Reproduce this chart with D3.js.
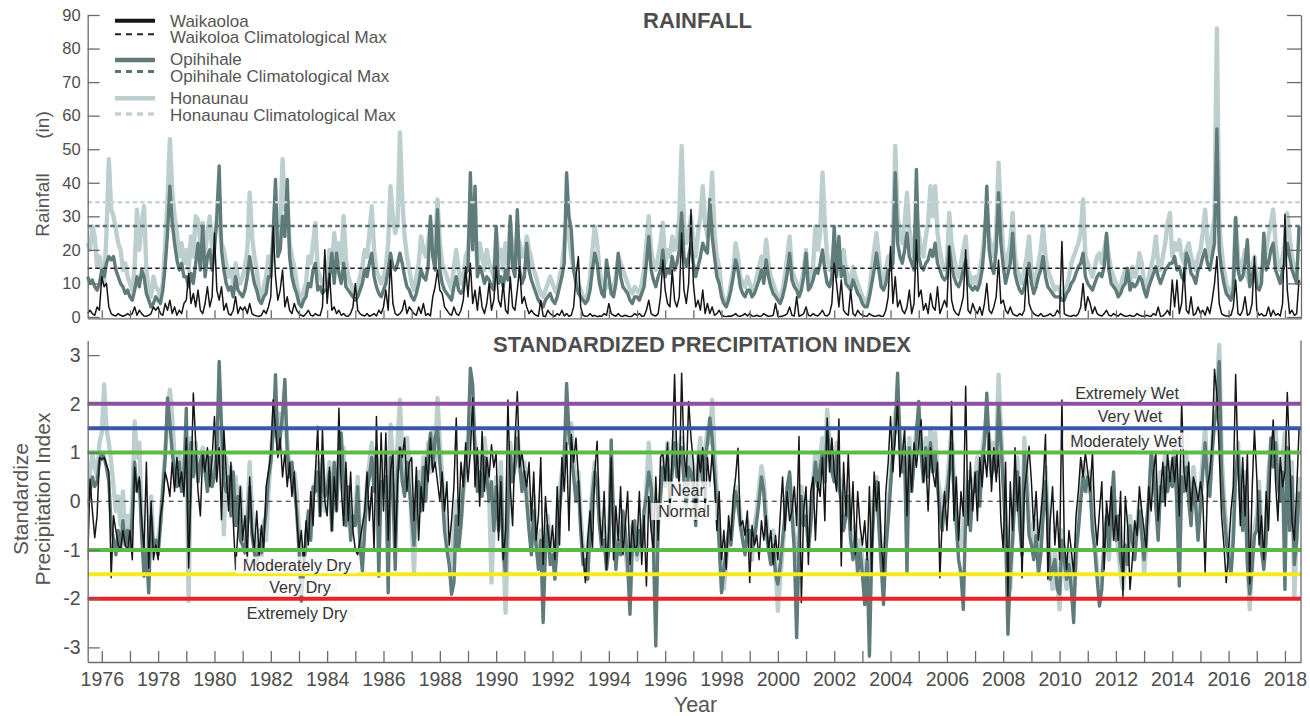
<!DOCTYPE html>
<html><head><meta charset="utf-8">
<script src="https://cdn.jsdelivr.net/npm/d3@7"></script>
<style>body{margin:0;background:#fff}svg{display:block}text{font-family:"Liberation Sans",Arial,sans-serif}</style>
</head><body><svg id="c" width="1310" height="716"></svg>
<script>
// ---------- DATA (monthly, Jul 1975 .. Jul 2018) ----------
const startYear = 1975.5;
const yearTicks = d3.range(1976, 2019);
const rainTicks = [0,10,20,30,40,50,60,70,80,90];
const spiTicks = [-3,-2,-1,0,1,2,3];
const climMax = {waikoloa: 14.5, opihihale: 27.1, honaunau: 34.2};

const rainHonaunau = [
22,20,27,24,15,18,
14,10,25,47,32,30,26,22,20,14,16,12,
10,8,15,32,20,28,33,14,8,6,12,9,
8,6,10,22,35,53,38,30,25,18,22,16,
20,14,24,18,30,29,22,28,19,25,30,20,
24,28,29,22,20,16,12,14,10,16,12,10,
12,15,20,37,24,18,14,8,6,9,12,18,
14,22,30,20,28,47,32,35,22,18,15,10,
6,5,8,10,18,16,22,28,14,12,10,9,
12,20,14,25,18,22,16,30,17,12,10,8,
7,9,12,15,20,18,25,33,20,14,12,10,
12,15,22,39,30,25,28,55,35,24,18,14,
10,8,12,16,24,20,18,22,28,24,20,35,
22,16,14,12,10,8,15,20,14,10,12,18,
20,29,23,26,15,22,18,14,20,16,14,12,
25,18,20,14,22,16,28,20,18,24,22,18,
18,24,20,17,14,12,9,7,6,8,10,12,
10,8,7,12,15,22,30,24,18,14,12,10,
8,6,5,7,12,20,27,22,14,10,8,9,
10,8,9,12,18,16,14,12,10,8,7,9,
8,7,10,14,22,30,20,16,14,18,22,28,
16,20,18,24,20,22,30,51,28,22,25,30,
22,18,25,30,39,28,24,30,43,25,18,15,
8,5,4,6,10,14,22,18,12,10,9,12,
10,8,9,12,15,18,14,23,16,12,10,8,
6,5,8,12,18,24,14,12,10,8,10,14,
20,10,12,15,27,20,25,43,28,18,14,16,
22,18,20,16,20,14,12,10,15,12,10,8,
6,5,4,8,14,20,25,18,12,10,14,18,
18,22,51,30,25,22,28,37,26,22,18,30,
25,20,18,24,28,39,30,39,25,20,16,14,
16,31,22,18,14,12,16,20,24,14,12,10,
12,10,14,18,25,32,24,20,18,25,46,30,
20,14,18,22,31,18,14,12,10,14,18,24,
14,10,12,16,20,27,18,14,12,10,8,9,
8,6,7,9,12,16,18,20,22,25,35,18,
16,14,12,15,18,19,16,20,24,18,14,12,
10,8,9,12,14,12,10,15,12,14,19,16,
10,8,12,15,18,24,16,14,18,22,28,31,
18,22,20,23,18,16,20,22,18,16,14,18,
20,25,32,22,18,25,30,86,28,20,14,10,
8,6,10,29.6,18,14,16,20,12,10,14,18,
12,10,14,16,20,24,28,32,22,16,14,18,
22,31,24,18,15,12,10];

const rainOpihihale = [
12,10,11,9,8,10,
14,12,16,18,17,18,14,12,10,9,7,8,
6,5,8,12,9,14,12,7,5,3,4,6,
5,4,8,15,25,39,28,22,17,14,16,12,
12,9,13,10,16,22,14,27,12,18,20,14,
20,30,45,20,14,10,8,9,6,12,8,7,
6,8,12,18,14,10,8,5,4,6,7,12,
12,25,41,18,20,30,24,41,18,12,9,7,
4,3,5,6,10,9,14,16,8,9,7,8,
8,12,19,10,19,13,10,16,9,8,7,6,
5,6,8,10,14,12,16,19,12,9,7,6,
8,10,14,19,15,14,16,19,16,12,9,8,
6,5,7,10,14,12,11,15,30,18,14,32,
14,10,8,7,6,5,9,12,8,7,8,13,
14,43,20,39,12,15,13,10,12,11,9,8,
27,10,12,9,14,11,30,15,12,32,14,10,
12,22,14,11,9,7,5,4,3,5,6,7,
5,4,6,9,12,16,43,30,26,14,10,7,
6,5,4,5,8,14,19,16,10,7,6,17,
12,7,6,10,19,12,9,8,7,5,4,6,
6,5,7,9,16,24,14,11,9,12,14,20,
12,14,13,18,14,16,20,31,18,15,18,22,
16,12,15,18,22,20,19,35,24,18,12,10,
6,4,3,5,8,12,17,14,9,7,6,8,
8,6,7,9,11,14,10,17,12,9,7,6,
5,4,6,9,13,19,11,9,8,6,8,12,
19,8,9,11,14,13,16,20,14,10,9,12,
27,12,24,12,15,10,9,8,11,9,7,6,
4,3,3,6,10,14,19,14,9,8,10,14,
14,16,43,22,18,16,20,25,18,16,14,44,
18,15,14,16,17,20,18,22,16,14,12,11,
12,21,15,12,10,9,11,14,17,10,9,8,
9,8,10,14,22,39,20,15,13,20,37,22,
15,10,13,16,25,13,10,8,7,9,12,16,
10,7,9,12,14,18,12,9,8,7,6,6,
6,5,5,7,8,10,11,13,15,16,19,12,
10,9,8,10,12,13,12,15,25,14,10,9,
8,6,7,9,10,14.5,8,10,9,10,12,11,
8,6,9,11,13,15,12,10,12,14,15,16,
16,18,14,15,12,11,19,17,13,12,10,14,
15,18,20,16,14,18,22,56,20,14,10,7,
6,5,8,29.6,14,11,12,16,23,9,12,15,
9,8,10,25,14,16,20,22,14,12,10,14,
16,22,18,14,12,10,27];

const rainWaikoloa = [
1,2,1,0.5,3,2,
12,9,10,3,1,0.5,0.3,1,0.5,0.2,0.5,1,
0.5,1,3,0.5,2,1,0.3,0.2,0.5,1,3,2,
3,1,0.5,4,2,5,1,3,0.5,2,1,4,
5,13,4,7,3,8,2,1,4,9,3,6,
25,8,5,9,2,4,1,0.5,2,6,1,3,
2,3,1,4,1,0.5,0.3,0.2,0.5,2,1,3,
6,27,12,5,8,14,3,6,2,1,4,2,
1,0.5,0.2,1,2,0.5,0.3,1,0.5,0.4,3,20,
4,13,2,3,1,2,0.5,1,0.3,0.2,1,3,
10,2,1,0.5,0.3,1,0.2,0.5,1,0.3,2,1,
3,8,2,17,4,1,0.5,1,2,5,1,3,
2,1,0.5,3,1,4,0.5,1,0.3,6,9,14,
8,7,3,2,1,0.5,3,1,0.5,2,5,15,
6,16,4,8,2,9,3,1,4,10,2,5,
15,5,3,10,2,1,12,3,2,8,15,4,
6,3,1,2,1,0.5,0.2,5,0.3,0.1,2,1,
0.5,0.2,1,0.5,2,0.3,1,0.2,0.5,3,12,18,
3,0.5,0.2,0.3,1,0.2,0.5,0.1,0.3,0.2,1,0.5,
4,1,0.5,0.2,1,0.3,0.2,0.5,0.2,0.1,0.3,1,
0.5,1,0.2,0.3,2,5,1,0.5,0.3,1,6,17,
8,4,3,14,5,3,6,25,8,4,10,32,
10,3,5,2,8,1,4,1,3,0.5,1,2,
0.5,0.2,0.1,0.3,0.2,0.5,1,0.3,0.2,0.5,1,0.3,
1,0.3,0.2,0.5,0.2,0.3,1,0.5,0.2,0.3,0.5,4,
0.2,0.1,0.3,0.5,1,3,0.5,0.3,6,0.2,0.5,1,
3,0.5,0.3,1,0.5,0.3,1,2,0.5,0.3,1,4,
16,10,3,11,2,1,0.5,8,1,0.3,2,1,
0.5,0.3,0.2,1,0.5,0.2,0.3,0.5,0.2,0.3,2,6,
21,4,12,3,5,2,1,3,8,1,4,23,
6,8,2,4,1,7,3,2,9,1,3,5,
3,21,5,2,1,0.5,3,6,20,2,1,4,
2,1,3,0.5,4,10,2,1,3,6,17,4,
5,2,1,3,1,0.5,0.3,1,0.5,2,14.5,4,
2,1,0.5,0.3,1,0.2,0.3,0.5,1,0.3,0.5,2,
1,22.5,1,0.5,0.3,0.2,0.5,0.3,1,3,10,2,
6,4,1,3,1,0.5,0.3,1,2,0.5,0.3,1,
0.5,0.3,1,0.5,0.2,0.3,0.5,0.2,0.3,1,0.5,0.3,
0.2,0.5,0.3,0.2,1,0.5,3,0.2,0.3,1,2,0.5,
11,3,11,1,4,14.5,2,1,6,0.5,1,3,
1,2,0.5,3,1,5,10,18,4,1,0.5,0.3,
0.3,0.5,3,11,1,0.5,2,6,0.5,1,4,18,
2,0.5,1,0.3,0.5,3,0.2,2,0.5,1,0.3,4,
30.6,8,1,2,0.5,1,11];

const spiHonaunau = [
0.2,0.6,1.0,0.7,0.5,1.2,
1.4,2.4,1.5,1.2,0.8,0.3,-0.2,0.1,-0.5,0.2,-0.8,-0.3,
-0.7,0.0,1.64,0.9,1.2,-0.4,-1.1,-1.5,-0.6,0.1,-0.9,-1.0,
-0.8,-0.4,0.3,1.0,1.7,2.29,1.74,0.9,0.6,1.0,0.4,0.8,
1.1,-2.05,1.3,0.8,1.2,0.6,0.9,1.1,0.7,0.4,1.0,0.5,
0.8,1.2,1.4,0.6,-0.68,0.9,0.3,0.7,0.0,0.5,-0.2,0.3,
-0.5,-1.0,-0.3,0.8,-0.2,-0.9,-1.1,-0.6,-1.2,-0.4,-0.8,0.2,
0.9,1.6,2.08,1.3,1.8,1.5,1.9,1.2,0.7,0.4,0.6,0.2,
-0.6,-1.5,-1.2,-0.9,-0.3,-0.5,0.1,0.4,0.8,0.2,0.6,-0.2,
0.3,0.8,-0.4,0.7,0.1,0.9,0.5,1.1,-0.3,0.2,-0.6,-0.4,
-0.2,0.5,-0.7,-1.0,-0.3,0.4,0.8,1.2,0.5,0.9,-0.2,0.3,
0.6,1.0,0.2,1.57,0.8,0.3,1.2,2.08,1.0,0.5,1.3,0.7,
-0.5,-1.47,-0.2,0.6,0.2,0.9,0.4,1.2,0.6,1.5,0.8,2.12,
1.2,0.5,-0.3,-0.8,-1.2,-1.5,-0.6,0.0,-0.8,-0.4,0.2,0.6,
1.0,1.8,1.5,1.2,0.3,0.9,0.5,1.3,0.8,0.2,-1.67,-0.4,
0.5,-0.3,0.8,-0.8,-2.29,-0.6,1.2,0.6,0.9,1.5,0.7,0.4,
0.8,0.2,-0.4,-0.9,0.1,-0.7,-1.2,-0.6,-1.5,-0.8,-0.3,-1.0,
-0.8,-1.4,-0.6,0.2,0.6,1.0,1.5,1.2,1.6,0.8,0.3,0.6,
-0.3,-1.0,-1.5,-0.9,-0.4,0.3,0.8,0.5,-0.3,-0.8,-0.5,-1.2,
-0.8,0.6,-0.3,-1.2,-0.6,-1.0,-0.4,-0.9,-1.5,-1.0,-0.5,-0.8,
-1.2,-0.7,-1.0,-0.4,0.3,1.2,0.5,-0.6,-1.3,-0.4,0.2,0.9,
0.6,1.2,0.4,0.9,1.4,0.8,1.1,1.3,0.7,0.2,0.9,1.0,
0.6,-0.2,0.9,1.3,0.5,1.0,1.5,1.2,2.08,1.0,0.2,-0.6,
-1.5,-1.8,-1.2,-0.8,-0.5,-0.2,0.3,0.1,-0.3,-0.6,-0.9,-0.4,
-0.8,-1.2,-0.5,-0.2,0.3,0.72,0.4,-0.3,-0.8,-1.1,-0.6,-1.3,
-2.25,-1.6,-1.0,-0.4,0.2,0.5,-0.3,-0.8,-1.2,-0.6,0.3,-0.2,
0.0,-0.8,-0.3,0.4,1.0,0.5,0.9,1.3,0.6,1.88,1.2,0.8,
0.5,1.2,0.6,0.2,-0.4,-0.1,0.3,-0.6,-1.0,-0.5,-1.3,-0.8,
-1.2,-1.6,-1.8,-1.3,-0.6,0.2,0.5,-0.3,-1.0,-1.5,-0.8,-0.2,
0.5,1.2,1.8,2.0,1.4,0.8,1.1,0.6,1.3,0.4,0.9,1.5,
1.8,1.2,0.6,1.3,0.7,1.5,0.9,1.4,0.5,0.2,-0.3,0.1,
0.3,0.9,1.5,0.4,-0.2,-0.6,-1.0,-0.5,0.2,0.6,-0.3,0.4,
0.5,0.9,0.2,1.0,1.4,1.8,1.3,0.8,1.2,0.9,2.6,1.5,
0.6,-0.3,-1.2,-1.8,-0.6,0.4,0.9,-0.2,-0.8,1.3,0.5,-0.4,
-0.6,-1.0,-0.4,-1.3,-0.8,0.2,0.7,-0.2,-1.4,-1.8,-1.0,-1.6,
-2.22,-0.6,-1.4,-1.8,-1.0,-1.5,-2.0,-1.2,-0.4,0.3,0.8,0.4,
0.2,0.6,-0.3,-0.8,-1.4,-1.9,-1.6,-1.0,-0.5,-1.2,-0.4,0.3,
-0.6,-1.0,-1.5,-1.8,-1.2,-0.8,-0.3,-0.6,-1.0,-0.5,0.0,-0.4,
-1.5,-0.8,-0.2,0.4,0.9,0.2,-0.5,0.6,0.3,1.0,0.5,0.8,
0.6,1.2,0.3,-1.4,0.8,0.5,1.0,0.3,-0.2,0.7,0.2,-0.5,
0.2,0.9,1.5,0.6,0.3,1.2,1.8,2.2,3.21,1.0,0.1,-0.5,
-1.0,-1.4,-0.6,0.8,1.2,0.3,-0.4,0.6,-1.0,-2.22,-1.2,-0.5,
-0.3,0.4,-0.7,-1.2,-0.5,0.6,1.1,0.9,1.5,0.7,0.3,0.9,
1.4,0.6,-0.4,0.8,-1.98,-0.6,0.5];

const spiOpihihale = [
-0.1,0.2,0.5,0.3,0.4,0.8,
1.0,0.9,0.7,0.4,-0.5,-0.8,-1.1,-0.6,-1.0,-0.4,-0.9,-0.6,
-1.0,-0.3,0.8,0.2,0.4,-0.7,-1.54,-1.0,-1.88,-0.3,-1.0,-0.8,
-1.1,-0.5,0.2,0.9,2.12,1.6,1.0,0.6,0.3,0.8,0.2,0.5,
1.91,-1.0,1.2,0.5,1.0,0.4,0.8,1.0,0.6,0.2,0.9,0.3,
0.5,1.0,2.87,1.54,0.4,0.2,0.5,-0.3,0.6,-0.5,0.1,-0.8,
-0.9,-1.06,-0.5,0.3,-0.7,-1.06,-1.3,-0.9,-1.06,-0.6,-0.2,0.5,
0.8,1.4,2.6,1.0,1.3,1.8,2.5,1.0,0.5,0.8,0.3,-0.2,
-1.0,-2.05,-1.4,-0.7,-0.2,-0.8,0.3,0.2,0.6,-0.3,0.9,0.1,
0.2,0.6,-0.6,0.8,-0.2,1.0,1.4,0.4,-0.5,0.3,-0.8,-0.3,
-0.5,0.3,-0.9,-1.43,-0.6,0.2,0.5,0.9,0.2,1.1,-1.54,0.4,
0.2,0.5,-1.88,0.9,0.3,-1.4,0.6,1.1,0.4,0.1,0.8,0.3,
-0.3,-0.9,0.1,0.4,-0.2,0.7,0.0,0.9,1.4,0.7,1.3,1.5,
0.8,0.2,-0.6,-1.0,-1.3,-1.91,-1.67,-0.3,-1.0,-0.5,0.3,0.8,
1.2,2.73,2.39,1.0,0.2,0.6,0.1,0.9,0.5,0.0,0.4,-0.6,
0.3,-0.6,0.5,-1.0,-1.5,-0.2,1.0,0.4,0.7,1.3,0.8,0.2,
0.6,0.0,-0.6,-1.1,-0.2,-0.9,-1.4,-0.8,-2.49,-1.0,-0.5,-1.3,
-1.1,-1.6,-0.9,-0.2,0.4,0.9,2.42,1.4,1.0,0.5,0.0,0.4,
-0.6,-1.3,-1.2,-1.6,-0.6,0.1,0.6,0.3,-0.5,-1.0,-0.8,-1.4,
-1.0,1.26,-0.5,-1.4,-0.8,-1.1,-0.2,-0.6,-1.3,-2.32,-0.9,-0.4,
-1.1,-0.6,-0.9,-0.2,0.1,0.6,0.3,-1.0,-2.97,-0.5,0.1,0.7,
0.3,0.9,0.1,0.6,1.2,0.5,0.8,1.1,0.4,-0.1,0.7,0.6,
0.2,-0.5,0.7,1.0,0.3,0.8,1.2,1.71,1.3,0.6,-0.1,-0.9,
-1.88,-1.4,-1.0,-0.6,-0.9,-0.3,0.2,-0.1,-0.5,-0.8,-1.1,-0.6,
-0.6,-1.0,-0.8,-0.4,0.0,0.5,0.2,-0.6,-1.0,-1.3,-0.9,-1.5,
-1.7,-1.3,-0.8,-0.3,0.3,0.6,-0.2,-1.0,-2.8,-0.9,0.1,-0.5,
-0.3,-1.0,-0.5,0.2,0.8,0.3,0.7,1.0,0.4,1.5,1.0,0.6,
0.4,1.0,0.3,0.0,-0.6,-0.3,0.1,-0.8,-1.2,-0.7,-1.5,-1.0,
-1.5,-2.12,-1.2,-3.18,-1.0,0.0,0.4,-0.5,-1.3,-2.12,-1.0,-0.4,
0.3,1.0,1.5,2.63,1.2,0.6,0.9,-1.47,1.1,0.2,0.8,1.3,
2.05,1.0,0.4,1.1,0.5,1.2,0.6,1.0,0.3,-0.2,-0.6,-0.1,
0.1,0.6,1.2,0.2,-0.5,-1.2,-1.5,-2.22,-0.3,0.4,-0.6,0.2,
0.2,0.6,-0.1,0.8,1.2,2.22,1.0,0.5,0.9,0.6,2.0,1.2,
0.3,-0.6,-2.73,-1.5,-0.8,0.2,0.6,-0.5,-1.1,1.0,0.3,-0.7,
-0.9,-1.2,-0.7,-1.5,-1.1,-0.3,0.4,-0.5,-1.6,-1.4,-1.2,-1.8,
-1.9,-0.8,-1.2,-1.6,-1.3,-1.8,-2.49,-1.0,-0.6,0.0,0.5,0.2,
0.5,0.3,-0.6,-1.0,-1.6,-2.15,-1.8,-0.8,-0.3,-1.0,-0.2,0.6,
-0.8,-0.3,-1.2,-1.5,-0.9,-1.3,-0.5,-0.8,-1.2,-0.6,-0.2,-0.7,
-1.2,-0.5,0.1,1.0,0.6,-0.1,-0.8,0.3,0.0,0.7,0.2,0.5,
0.3,0.9,-0.1,-1.74,0.5,0.2,0.7,0.0,-0.5,0.4,-0.1,-0.8,
-0.1,0.6,1.2,0.4,0.1,1.0,1.6,1.9,2.87,0.6,-0.2,-0.8,
-1.2,-1.5,-0.8,0.6,1.0,0.1,-0.6,0.3,-1.3,-1.9,-1.4,-0.7,
-0.6,0.2,-1.0,-1.4,-0.8,0.3,1.3,0.7,1.2,0.4,0.0,0.6,
-1.81,1.1,-0.6,0.5,-1.3,-0.8,0.2];

const spiWaikoloa = [
-1.2,0.45,-0.2,-0.75,-0.3,0.9,
0.85,0.9,0.75,0.6,-1.57,-0.3,-0.6,-0.9,-1.0,-0.6,-0.9,-1.0,
-0.6,-1.2,0.7,0.2,0.5,-0.4,-1.0,0.8,-1.37,0.0,-1.2,-0.9,
-1.2,-0.3,0.0,0.6,0.4,0.1,0.8,0.2,0.9,0.3,0.6,0.1,
1.3,-1.37,0.3,2.22,1.2,0.2,-0.3,1.0,0.6,1.1,0.3,0.9,
1.74,0.4,1.1,-0.38,1.5,0.6,-0.2,0.8,-0.4,-1.4,-0.6,0.3,
-0.8,-0.3,-1.2,0.5,-0.6,-1.0,-0.2,-1.1,-0.5,-1.0,0.3,0.6,
1.0,2.08,1.47,0.9,1.3,0.5,1.0,0.3,0.8,0.1,0.6,-0.3,
-1.0,-0.6,-1.3,-0.4,-0.9,0.2,-0.5,0.6,1.54,-0.3,1.47,0.0,
-0.3,0.7,-0.6,0.5,-0.2,1.91,0.3,-0.5,0.8,-0.4,0.6,-0.6,
-1.0,-1.1,-0.8,-0.5,-0.2,0.6,-0.4,0.3,-1.0,1.74,-0.5,1.4,
-0.2,1.4,-0.8,0.6,1.0,-1.0,0.4,1.1,0.9,1.3,0.2,0.8,
0.9,-0.4,0.7,-0.8,0.3,-0.2,0.9,0.4,1.3,0.6,0.8,0.4,
0.0,0.6,-0.2,0.4,-0.9,-0.4,0.3,1.71,-0.5,0.8,0.3,1.2,
0.4,1.0,2.12,0.3,1.1,-0.1,1.43,0.2,0.9,0.5,1.16,0.7,
1.0,-0.8,0.4,-1.2,-0.6,2.08,0.3,-0.5,1.2,2.25,0.7,1.0,
0.6,0.3,0.8,-0.4,0.6,-0.8,-0.3,0.9,-1.3,0.1,-0.6,-1.0,
-0.5,-1.2,0.3,-0.9,0.9,0.2,1.2,-0.6,1.37,0.8,1.3,0.5,
-0.4,-1.1,-1.67,-0.8,-0.2,-1.0,0.6,1.23,-0.3,-0.9,0.2,-1.4,
-0.6,0.9,-1.2,-0.1,-0.8,0.3,-1.1,-0.5,0.2,-1.3,-0.4,-1.0,
-0.9,0.2,-1.3,-0.3,-1.74,0.1,-0.6,-1.0,0.5,-0.8,0.9,1.0,
0.4,1.2,-0.3,1.0,2.6,0.8,0.3,2.63,1.0,0.5,2.05,1.3,
0.8,-0.4,1.0,0.6,1.1,-0.2,0.9,0.3,1.0,0.4,-0.6,0.2,
-1.2,-0.6,-1.4,-0.3,-0.8,0.1,0.5,1.09,-0.5,-0.4,-0.7,-0.2,
-1.67,-0.5,-0.9,-0.7,-1.2,-0.4,-0.8,-0.3,-1.0,-0.6,-1.3,-0.7,
-1.2,-0.3,0.5,-0.6,0.2,-0.4,-0.2,0.3,-0.5,1.33,-2.08,-0.2,
0.3,-1.3,0.2,0.5,-0.8,0.4,0.1,0.9,-0.4,1.71,0.6,1.3,
0.6,0.2,1.69,-1.33,0.8,-0.3,1.0,-0.6,0.4,-1.1,0.2,-0.5,
-0.9,-0.4,-1.2,0.3,-1.5,0.6,-0.2,0.4,-0.8,-1.5,0.2,0.8,
1.74,0.6,1.3,2.05,0.5,0.9,1.5,-0.3,1.0,0.2,1.2,0.7,
1.2,1.67,0.4,0.9,-0.2,1.1,0.6,0.3,0.8,-1.57,-0.4,0.2,
-0.6,0.3,2.05,-0.4,0.5,-0.8,0.2,-0.3,2.36,-0.5,0.8,-0.2,
0.6,-0.4,0.9,0.3,1.0,0.5,1.4,0.2,1.1,0.4,1.0,-0.4,
-1.0,0.8,-1.95,0.4,-0.6,1.1,-0.2,0.5,-1.57,0.2,0.6,1.13,
0.4,-0.6,0.2,-0.8,-0.3,0.3,1.37,-1.6,-0.4,0.3,-0.9,-0.2,
-1.2,2.08,-0.8,-1.4,-0.6,-1.0,-1.5,-0.3,0.2,0.9,0.5,1.0,
0.6,0.2,1.0,-0.3,-0.9,-0.2,0.4,-1.4,0.0,-0.5,0.3,-0.8,
-0.3,-0.8,0.2,-1.95,0.1,-0.5,-1.81,-1.2,-0.4,-0.7,0.3,-0.2,
-0.6,-1.0,0.3,-0.2,0.6,1.0,-0.4,0.2,0.8,-0.1,1.0,0.4,
0.9,0.4,1.0,-0.3,2.02,0.6,0.2,0.8,-0.2,0.5,0.3,0.0,
0.4,0.1,-1.47,0.3,0.6,1.2,2.71,2.2,1.0,-0.3,-0.9,-1.67,
-1.0,-0.2,0.3,2.6,0.8,-0.5,0.9,-0.3,1.0,-1.7,0.2,1.47,
0.5,-0.9,-0.3,-1.2,0.2,-0.6,0.8,1.67,0.4,-0.4,0.9,0.3,
0.6,2.23,0.9,-0.4,-0.8,0.2,1.47];

const spiClasses = [
  {value: 2, color: '#8d4f9f'},
  {value: 1.5, color: '#3a56a6'},
  {value: 1, color: '#5cb947'},
  {value: -1, color: '#5cb947'},
  {value: -1.5, color: '#f4ea1d'},
  {value: -2, color: '#ec2227'}
];
const spiLabels = [
  {text: 'Extremely Wet', x: 1127, y: 393},
  {text: 'Very Wet', x: 1130, y: 416},
  {text: 'Moderately Wet', x: 1126, y: 441},
  {text: 'Near', x: 687.5, y: 490},
  {text: 'Normal', x: 684, y: 511.5},
  {text: 'Moderately Dry', x: 297, y: 565},
  {text: 'Very Dry', x: 300, y: 587},
  {text: 'Extremely Dry', x: 297, y: 613}
];

// ---------- CHART ----------
const svg = d3.select('#c');
const C = {wai: '#161616', opi: '#5f7b7a', hon: '#bccfce', axis: '#6b6b6b', text: '#4d4d4d'};

const x = d3.scaleLinear().domain([1975.5, 2018.57]).range([87.7, 1301]);
const yR = d3.scaleLinear().domain([-0.4, 90]).range([318.3, 15]);
const yS = d3.scaleLinear().domain([-3.3, 3.3]).range([662, 340.5]);

const lens = [rainHonaunau, rainOpihihale, rainWaikoloa, spiHonaunau, spiOpihihale, spiWaikoloa].map(a => a.length);
const nPts = d3.min(lens);
const tx = i => x(startYear + i / 12);

svg.append('defs').append('clipPath').attr('id', 'clipS')
  .append('rect').attr('x', 87.7).attr('y', 340.5).attr('width', 1301 - 87.7).attr('height', 662 - 340.5);

// --- top panel lines
const lineR = d3.line().x((d, i) => tx(i)).y(d => yR(d));
const gTop = svg.append('g');
[[rainHonaunau, C.hon, 4.4], [rainOpihihale, C.opi, 3.4], [rainWaikoloa, C.wai, 1.5]].forEach(([arr, col, w]) => {
  gTop.append('path').datum(arr.slice(0, nPts)).attr('d', lineR)
    .attr('fill', 'none').attr('stroke', col).attr('stroke-width', w).attr('stroke-linejoin', 'round');
});
[[climMax.honaunau, '#c6d5d4', 2.6], [climMax.opihihale, '#5c7372', 2.4], [climMax.waikoloa, '#222', 1.5]].forEach(([v, col, w]) => {
  gTop.append('line').attr('x1', x(1975.5)).attr('x2', x(2018.57)).attr('y1', yR(v)).attr('y2', yR(v))
    .attr('stroke', col).attr('stroke-width', w).attr('stroke-dasharray', '4.5,3');
});

function styleAxis(g, fs) {
  g.selectAll('path.domain').attr('stroke', C.axis).attr('stroke-width', 1.3);
  g.selectAll('.tick line').attr('stroke', C.axis).attr('stroke-width', 1.3);
  g.selectAll('.tick text').attr('fill', C.text).style('font-size', fs + 'px').style('font-family', '"Liberation Sans",Arial,sans-serif');
}
const gyR = svg.append('g').attr('transform', 'translate(87.7,0)')
  .call(d3.axisLeft(yR).tickValues(rainTicks).tickSize(-12).tickSizeOuter(0).tickPadding(7).tickFormat(d => String(d)));
styleAxis(gyR, 16.5);
const gyR2 = svg.append('g').attr('transform', 'translate(1301,0)')
  .call(d3.axisRight(yR).tickValues(rainTicks).tickSize(-14).tickSizeOuter(0).tickFormat(''));
styleAxis(gyR2, 1);
const gxR = svg.append('g').attr('transform', 'translate(0,318.3)')
  .call(d3.axisBottom(x).tickValues(yearTicks).tickSize(-8).tickSizeOuter(0).tickFormat(''));
styleAxis(gxR, 1);

const legend = [
  {label: 'Waikaoloa', color: C.wai, w: 4, dash: null, ly: 20.7, ty: 26.5},
  {label: 'Waikoloa Climatological Max', color: '#222', w: 2, dash: '6,5', ly: 34.3, ty: 42.5},
  {label: 'Opihihale', color: C.opi, w: 4.5, dash: null, ly: 60, ty: 65},
  {label: 'Opihihale Climatological Max', color: '#5c7372', w: 3.2, dash: '6,5', ly: 71.5, ty: 81.5},
  {label: 'Honaunau', color: C.hon, w: 4.5, dash: null, ly: 98.3, ty: 104},
  {label: 'Honaunau Climatological Max', color: '#c6cfcf', w: 3.6, dash: '6,5', ly: 114, ty: 120.5}
];
const lg = svg.append('g');
legend.forEach(d => {
  lg.append('line').attr('x1', 115).attr('x2', 155).attr('y1', d.ly).attr('y2', d.ly)
    .attr('stroke', d.color).attr('stroke-width', d.w).attr('stroke-dasharray', d.dash);
  lg.append('text').attr('x', 170).attr('y', d.ty).text(d.label)
    .attr('fill', '#555').style('font-size', '17px');
});

svg.append('text').attr('x', 697.5).attr('y', 28.3).attr('text-anchor', 'middle')
  .style('font-size', '22px').style('font-weight', 'bold').attr('fill', C.text).text('RAINFALL');

svg.append('text').attr('transform', 'translate(49,205) rotate(-90)').attr('text-anchor', 'middle')
  .style('font-size', '19px').attr('fill', '#555').text('Rainfall');
svg.append('text').attr('transform', 'translate(49,125) rotate(-90)').attr('text-anchor', 'middle')
  .style('font-size', '19px').attr('fill', '#555').text('(in)');

// --- bottom panel
const lineS = d3.line().x((d, i) => tx(i)).y(d => yS(d));
const gBot = svg.append('g').attr('clip-path', 'url(#clipS)');
[[spiHonaunau, C.hon, 4.4], [spiOpihihale, C.opi, 3.4], [spiWaikoloa, C.wai, 1.5]].forEach(([arr, col, w]) => {
  gBot.append('path').datum(arr.slice(0, nPts)).attr('d', lineS)
    .attr('fill', 'none').attr('stroke', col).attr('stroke-width', w).attr('stroke-linejoin', 'round');
});
spiClasses.forEach(c => {
  svg.append('line').attr('x1', x(1975.5)).attr('x2', x(2018.57)).attr('y1', yS(c.value)).attr('y2', yS(c.value))
    .attr('stroke', c.color).attr('stroke-width', 4);
});
svg.append('line').attr('x1', x(1975.5)).attr('x2', x(2018.57)).attr('y1', yS(0)).attr('y2', yS(0))
  .attr('stroke', '#222').attr('stroke-width', 1).attr('stroke-dasharray', '5,4');

spiLabels.forEach(l => {
  const t = svg.append('text').attr('x', l.x).attr('y', l.y).attr('text-anchor', 'middle')
    .attr('dominant-baseline', 'central').style('font-size', '16px').attr('fill', '#333').text(l.text);
  const bb = t.node().getBBox();
  svg.insert('rect', () => t.node()).attr('x', bb.x - 7).attr('y', bb.y).attr('width', bb.width + 14).attr('height', bb.height)
    .attr('fill', '#fafafa').attr('opacity', 0.82);
});

const gyS = svg.append('g').attr('transform', 'translate(87.7,0)')
  .call(d3.axisLeft(yS).tickValues(spiTicks).tickSize(-12).tickSizeOuter(0).tickPadding(7).tickFormat(d => String(d)));
styleAxis(gyS, 19.5);
const gxS = svg.append('g').attr('transform', 'translate(0,662)')
  .call(d3.axisBottom(x).tickValues(yearTicks).tickSize(-11).tickSizeOuter(0).tickPadding(10.5)
    .tickFormat(d => d % 2 === 0 ? String(d) : ''));
styleAxis(gxS, 19.5);
svg.append('line').attr('x1', 1301).attr('x2', 1301).attr('y1', 340.5).attr('y2', 662)
  .attr('stroke', C.axis).attr('stroke-width', 1.3);

svg.append('text').attr('x', 702).attr('y', 352).attr('text-anchor', 'middle')
  .style('font-size', '22px').style('font-weight', 'bold').attr('fill', C.text).text('STANDARDIZED PRECIPITATION INDEX');

svg.append('text').attr('transform', 'translate(28,499) rotate(-90)').attr('text-anchor', 'middle')
  .style('font-size', '21px').attr('fill', '#555').text('Standardize');
svg.append('text').attr('transform', 'translate(50,499) rotate(-90)').attr('text-anchor', 'middle')
  .style('font-size', '21px').attr('fill', '#555').text('Precipitation Index');

svg.append('text').attr('x', 695.5).attr('y', 712).attr('text-anchor', 'middle')
  .style('font-size', '21.5px').attr('fill', '#555').text('Year');

if (d3.extent(lens)[0] !== d3.extent(lens)[1]) {
  svg.append('text').attr('x', 600).attr('y', 250).attr('fill', 'red').style('font-size', '20px').text('LEN ' + lens.join(','));
}
</script></body></html>
